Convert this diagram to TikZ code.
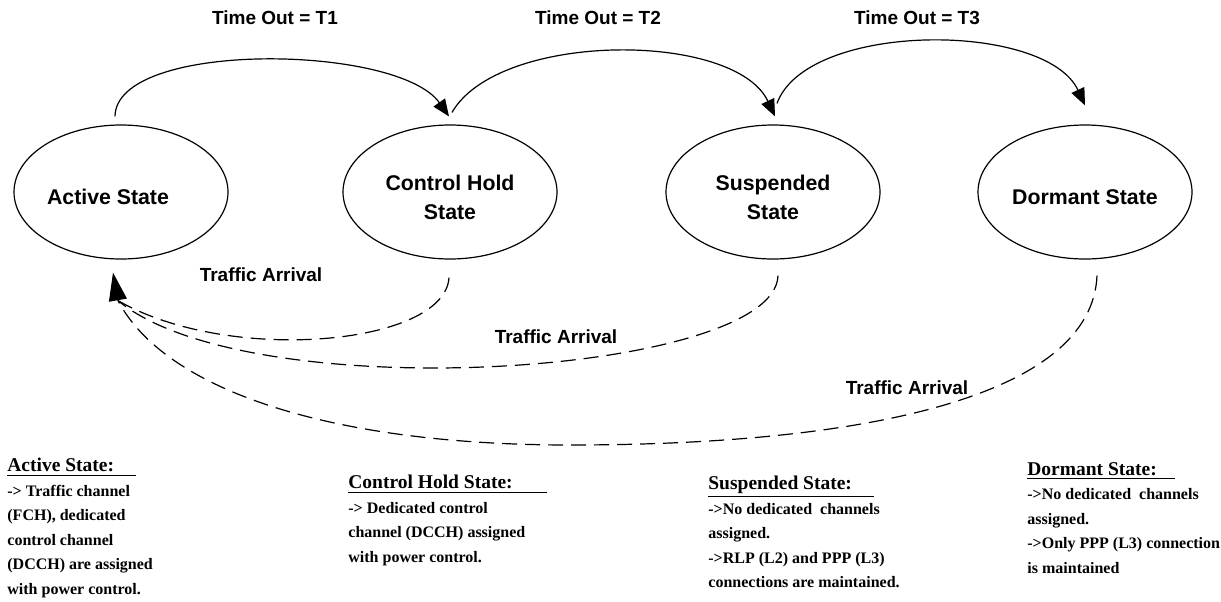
\documentclass[tikz,border=0pt]{standalone}
\usepackage{fontspec}
\setmainfont{Liberation Serif}
\newfontfamily\arialfont{Liberation Sans}
\usetikzlibrary{shapes.geometric,arrows.meta,calc}

\tikzset{
  state/.style={ellipse,draw,line width=0.6pt,minimum width=107pt,minimum height=67pt,inner sep=0pt,align=center,text height=12.7pt,font=\arialfont\fontsize{10.65}{14.5}\selectfont\bfseries},
  state2/.style={state,text height=27.3pt},
  timeout/.style={line width=0.6pt,-{Triangle[length=8.5pt,width=7pt]}},
  traffic/.style={line width=0.6pt,dash pattern=on 7.5pt off 4pt},
  lbl/.style={font=\arialfont\fontsize{9.5}{11}\selectfont\bfseries},
  desc/.style={anchor=north west,inner sep=0pt,align=left,font=\bfseries\fontsize{8}{12.25}\selectfont},
}
\newcommand{\deschead}[2]{{\fontsize{9.75}{12.25}\selectfont\underline{#1\hspace{#2}}}}

\begin{document}
\begin{tikzpicture}[x=0.5pt,y=-0.5pt]
\useasboundingbox (0,0) rectangle (1221,601);

% the four states
\node[state] (act) at (121,192) {Active State\hspace*{13pt}};
\node[state2] (ch) at (450,192) {Control Hold\\State};
\node[state2] (susp) at (773,192) {Suspended\\State};
\node[state] (dorm) at (1085,192) {Dormant State};

% time outs
\draw[timeout] ($(act.north)+(-6,-8)$) .. controls (116,40) and (398,44) .. ($(ch.north)+(-1,-8)$);
\draw[timeout] ($(ch.north)+(2,-12)$) .. controls (499,31) and (735,31) .. ($(susp.north)+(2,-8)$);
\draw[timeout] ($(susp.north)+(4,-21)$) .. controls (807,21) and (1046,21) .. ($(dorm.north)+(0,-19)$);
\node[lbl] (t1) at (275,18) {Time Out = T1};
\node[lbl] (t2) at (598,18) {Time Out = T2};
\node[lbl] (t3) at (917,18) {Time Out = T3};

% traffic arrival, back to active
\coordinate (ret) at ($(act.south)+(-3,41)$);
\draw[traffic] ($(ch.south)+(-1,18)$) .. controls (445,345) and (230,365) .. (ret);
\draw[traffic] ($(susp.south)+(5,16)$) .. controls (775,375) and (250,410) .. (ret);
\draw[traffic] ($(dorm.south)+(12,16)$) .. controls (1092,395) and (870,445) .. (570,445) .. controls (330,445) and (165,390) .. (ret);
\draw[line width=0.6pt,-{Triangle[length=14pt,width=9pt]}] (ret) -- ($(act.south)+(-8,13)$);
\node[lbl] (ta1) at (261,275) {Traffic Arrival};
\node[lbl] (ta2) at (556,337) {Traffic Arrival};
\node[lbl] (ta3) at (907,388) {Traffic Arrival};

% descriptions
\node[desc] (dact) at (7,458) {\deschead{Active State:}{11pt}\\
-> Traffic channel\\
(FCH), dedicated\\
control channel\\
(DCCH) are assigned\\
with power control.};
\node[desc] (dch) at (348,475) {\deschead{Control Hold State:}{17pt}\\
-> Dedicated control\\
channel (DCCH) assigned\\
with power control.};
\node[desc] (dsusp) at (708,476) {\deschead{Suspended State:}{11pt}\\
->No dedicated~ channels\\
assigned.\\
->RLP (L2) and PPP (L3)\\
connections are maintained.};
\node[desc] (ddorm) at (1027,462) {\deschead{Dormant State:}{9pt}\\
->No dedicated~ channels\\
assigned.\\
->Only PPP (L3) connection\\
is maintained};
\end{tikzpicture}
\end{document}
